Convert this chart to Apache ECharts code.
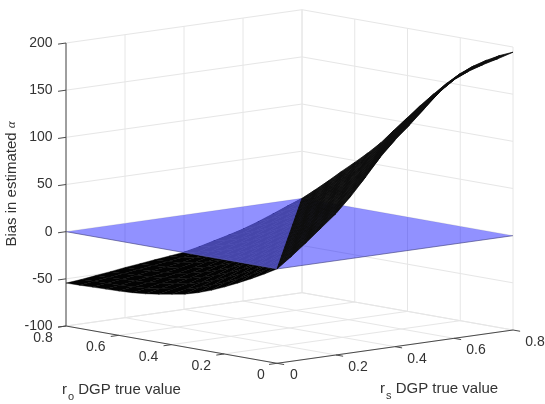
<!DOCTYPE html>
<html><head><meta charset="utf-8">
<style>html,body{margin:0;padding:0;background:#fff}#c{width:545px;height:404px}</style>
<script src="https://cdn.jsdelivr.net/npm/echarts@6/dist/echarts.min.js"></script>
</head><body><div id="c"></div>
<script>
// Axis ticks
const rsValues = [0, 0.05, 0.1, 0.15, 0.2, 0.25, 0.3, 0.35, 0.4, 0.45, 0.5, 0.55, 0.6, 0.65, 0.7, 0.75, 0.8];
const roValues = [0, 0.05, 0.1, 0.15, 0.2, 0.25, 0.3, 0.35, 0.4, 0.45, 0.5, 0.55, 0.6, 0.65, 0.7, 0.75, 0.8];
const rsTicks = [0, 0.2, 0.4, 0.6, 0.8];
const roTicks = [0, 0.2, 0.4, 0.6, 0.8];
const zTicks = [-100, -50, 0, 50, 100, 150, 200];
const planeZ = 0;
// Bias surface: one row per ro value, one column per rs value
const biasRo00 = [0, 11.5, 24, 37, 50, 66, 84, 103, 119, 133, 148, 163, 174, 181, 186, 190, 194.5];
const biasRo01 = [-8, 0, 11.5, 24, 37, 49.8, 65.5, 83, 101.6, 117.3, 131.3, 145.9, 160.3, 171, 178.2, 183.5, 188.5];
const biasRo02 = [-15.5, -7.9, 0, 11.5, 23.9, 36.8, 49.7, 65, 82, 100.1, 115.6, 129.6, 143.8, 157.6, 168, 175.3, 181];
const biasRo03 = [-22.5, -15.3, -7.7, 0, 11.5, 23.9, 36.8, 49.5, 64.5, 81, 98.7, 114, 127.9, 141.8, 154.9, 165, 172.5];
const biasRo04 = [-29, -22.2, -15, -7.6, 0, 11.5, 23.9, 36.7, 49.3, 64, 80, 97.2, 112.3, 126.1, 139.7, 152.2, 162];
const biasRo05 = [-35, -28.6, -21.9, -14.8, -7.5, 0, 11.5, 23.8, 36.6, 49.2, 63.5, 79, 95.8, 110.6, 124.4, 137.6, 149.5];
const biasRo06 = [-40, -34.4, -28.1, -21.5, -14.6, -7.3, 0, 11.5, 23.8, 36.5, 49, 63, 78, 94.3, 108.9, 122.7, 135.5];
const biasRo07 = [-44, -39.2, -33.7, -27.7, -21.2, -14.4, -7.2, 0, 11.5, 23.8, 36.5, 48.8, 62.5, 77, 92.9, 107.2, 121];
const biasRo08 = [-46.5, -43.1, -38.4, -33.1, -27.2, -20.9, -14.1, -7.1, 0, 11.5, 23.7, 36.4, 48.7, 62, 76, 91.4, 105.5];
const biasRo09 = [-49, -45.6, -42.2, -37.6, -32.5, -26.8, -20.6, -13.9, -6.9, 0, 11.5, 23.7, 36.3, 48.5, 61.5, 75, 90];
const biasRo10 = [-51, -47.9, -44.7, -41.3, -36.8, -31.8, -26.4, -20.2, -13.7, -6.8, 0, 11.5, 23.6, 36.2, 48.3, 61, 74];
const biasRo11 = [-52.3, -49.7, -46.8, -43.8, -40.4, -36, -31.2, -25.9, -19.9, -13.4, -6.7, 0, 11.5, 23.6, 36.1, 48.2, 60.5];
const biasRo12 = [-53, -50.8, -48.3, -45.7, -42.9, -39.6, -35.2, -30.5, -25.5, -19.6, -13.2, -6.5, 0, 11.5, 23.6, 36, 48];
const biasRo13 = [-53.4, -51.5, -49.4, -47, -44.6, -42, -38.7, -34.4, -29.9, -25, -19.3, -13, -6.4, 0, 11.5, 23.5, 36];
const biasRo14 = [-53.8, -51.9, -49.9, -47.9, -45.7, -43.5, -41.2, -37.8, -33.6, -29.3, -24.6, -18.9, -12.8, -6.3, 0, 11.5, 23.5];
const biasRo15 = [-54.2, -52.4, -50.5, -48.4, -46.5, -44.3, -42.4, -40.3, -36.9, -32.8, -28.6, -24.1, -18.6, -12.5, -6.1, 0, 11.5];
const biasRo16 = [-54.5, -53, -51, -49, -46.8, -45, -43, -41.3, -39.4, -36, -32, -28, -23.7, -18.3, -12.3, -6, 0];
const bias = [biasRo00, biasRo01, biasRo02, biasRo03, biasRo04, biasRo05, biasRo06, biasRo07, biasRo08, biasRo09, biasRo10, biasRo11, biasRo12, biasRo13, biasRo14, biasRo15, biasRo16];

const rsMax = 0.8, roMax = 0.8, zMin = -100, zMax = 200;
// 3D view -> page axis units
function project(rs, ro, z) {
  const a = rs / rsMax, b = ro / roMax;
  return [277 + 236 * a - 211 * b, 363.3 - 33.3 * a - 37.3 * b - (z - zMin) * 0.9433];
}
function node(i, j) { return project(rsValues[j], roValues[i], bias[i][j]); }

const lowerPolys = [], upperPolys = [];
for (let i = 0; i < roValues.length - 1; i++) {
  for (let j = 0; j < rsValues.length - 1; j++) {
    if (i === j) {
      upperPolys.push([node(i, j), node(i, j + 1), node(i + 1, j + 1)]);
      lowerPolys.push([node(i, j), node(i + 1, j + 1), node(i + 1, j)]);
    } else {
      (j > i ? upperPolys : lowerPolys).push([node(i, j), node(i, j + 1), node(i + 1, j + 1), node(i + 1, j)]);
    }
  }
}
const planePoly = [project(0, 0, planeZ), project(rsMax, 0, planeZ), project(rsMax, roMax, planeZ), project(0, roMax, planeZ)];
const planeFrontEdges = [[planePoly[3], planePoly[0]], [planePoly[0], planePoly[1]]];

// outline of the part below the plane, clipped to the plane's front-left edge
function belowOutline() {
  const out = [];
  for (let i = 0; i < roValues.length; i++) out.push(node(i, 0));
  for (let j = 1; j < rsValues.length; j++) out.push(node(roValues.length - 1, j));
  for (let k = rsValues.length - 2; k > 0; k--) out.push(node(k, k));
  const A = project(0, 0, planeZ), B = project(0, roMax, planeZ);
  const side = p => (B[0] - A[0]) * (p[1] - A[1]) - (B[1] - A[1]) * (p[0] - A[0]);
  const res = [];
  for (let n = 0; n < out.length; n++) {
    const p = out[n], q = out[(n + 1) % out.length], sp = side(p), sq = side(q);
    if (sp >= 0) res.push(p);
    if ((sp >= 0) !== (sq >= 0)) {
      const t = sp / (sp - sq);
      res.push([p[0] + (q[0] - p[0]) * t, p[1] + (q[1] - p[1]) * t]);
    }
  }
  return res;
}

const gridSegs = [], axisSegs = [];
zTicks.forEach(z => {
  gridSegs.push([project(0, roMax, z), project(rsMax, roMax, z)]);
  gridSegs.push([project(rsMax, roMax, z), project(rsMax, 0, z)]);
  axisSegs.push([project(0, roMax, z), project(-0.027, roMax, z)]);
});
rsTicks.forEach(v => {
  gridSegs.push([project(v, roMax, zMin), project(v, roMax, zMax)]);
  gridSegs.push([project(v, 0, zMin), project(v, roMax, zMin)]);
  axisSegs.push([project(v, 0, zMin), project(v, -0.027, zMin)]);
});
roTicks.forEach(v => {
  gridSegs.push([project(rsMax, v, zMin), project(rsMax, v, zMax)]);
  gridSegs.push([project(0, v, zMin), project(rsMax, v, zMin)]);
  axisSegs.push([project(0, v, zMin), project(-0.027, v, zMin)]);
});
axisSegs.push([project(0, roMax, zMin), project(0, roMax, zMax)]);
axisSegs.push([project(0, 0, zMin), project(0, roMax, zMin)]);
axisSegs.push([project(0, 0, zMin), project(rsMax, 0, zMin)]);

function polySeries(polys, style, z) {
  return {
    type: 'custom', coordinateSystem: 'cartesian2d', silent: true, clip: false, z, animation: false,
    data: polys.map((_, k) => [k, 0]),
    renderItem(params, api) {
      return { type: 'polygon', shape: { points: polys[params.dataIndex].map(p => api.coord(p)) }, style };
    }
  };
}
function segSeries(segs, stroke, z) {
  return {
    type: 'custom', coordinateSystem: 'cartesian2d', silent: true, clip: false, z, animation: false,
    data: segs.map((_, k) => [k, 0]),
    renderItem(params, api) {
      const s = segs[params.dataIndex], a = api.coord(s[0]), b = api.coord(s[1]);
      return { type: 'line', shape: { x1: a[0], y1: a[1], x2: b[0], y2: b[1] }, style: { stroke, lineWidth: 1 } };
    }
  };
}
const font = '14px "Liberation Sans", Arial, sans-serif';
const labelFont = '15px "Liberation Sans", Arial, sans-serif';
const textColor = '#333333';
const texts = [];
zTicks.forEach(z => { const p = project(0, roMax, z); texts.push({ t: String(z), p: [p[0] - 13.5, p[1]], align: 'right' }); });
roTicks.forEach(v => { const p = project(0, v, zMin); texts.push({ t: String(v), p: [p[0] - 16 - (v === 0 ? 0 : 7), p[1] + 12], align: 'center' }); });
rsTicks.forEach(v => { const p = project(v, 0, zMin); texts.push({ t: String(v), p: [p[0] + 17 + (v === 0 ? 0 : 5), p[1] + 12], align: 'center' }); });
const labelStyles = {
  a: { font: labelFont, fill: textColor },
  s: { font: '11px "Liberation Sans", Arial, sans-serif', fill: textColor, padding: [13, 0, 0, 1] },
  g: { font: 'italic 13px "Liberation Serif", serif', fill: textColor }
};
texts.push({ t: '{a|r}{s|o}{a| DGP true value}', p: [62, 390], align: 'left', rich: labelStyles });
texts.push({ t: '{a|r}{s|s}{a| DGP true value}', p: [380, 389], align: 'left', rich: labelStyles });
texts.push({ t: '{a|Bias in estimated }{g|α}', p: [12, 184], align: 'center', rich: labelStyles, rot: Math.PI / 2 });

const option = {
  animation: false,
  backgroundColor: '#ffffff',
  grid: { left: 0, right: 0, top: 0, bottom: 0 },
  xAxis: { type: 'value', min: 0, max: 545, show: false },
  yAxis: { type: 'value', min: 0, max: 404, inverse: true, show: false },
  series: [
    segSeries(gridSegs, '#e6e6e6', 1),
    segSeries(axisSegs, '#4a4a4a', 2),
    polySeries(lowerPolys, { fill: '#030303', stroke: '#030303', lineWidth: 0.4 }, 3),
    polySeries([planePoly], { fill: 'rgba(0,0,255,0.43)' }, 4),
    segSeries(planeFrontEdges, 'rgba(60,60,120,0.6)', 4),
    polySeries([belowOutline()], { fill: 'rgba(140,140,230,0.5)' }, 5),
    polySeries(upperPolys, { fill: '#0e0e0e', stroke: '#0e0e0e', lineWidth: 0.8 }, 6),
    {
      type: 'custom', coordinateSystem: 'cartesian2d', silent: true, clip: false, z: 7, animation: false,
      data: texts.map((_, k) => [k, 0]),
      renderItem(params, api) {
        const d = texts[params.dataIndex], c = api.coord(d.p);
        const style = { text: d.t, font, fill: textColor, align: d.align, verticalAlign: 'middle' };
        if (d.rich) style.rich = d.rich;
        return { type: 'text', x: c[0], y: c[1], rotation: d.rot || 0, style };
      }
    }
  ]
};
const chart = echarts.init(document.getElementById('c'), null, { renderer: 'canvas' });
chart.setOption(option);
</script></body></html>
